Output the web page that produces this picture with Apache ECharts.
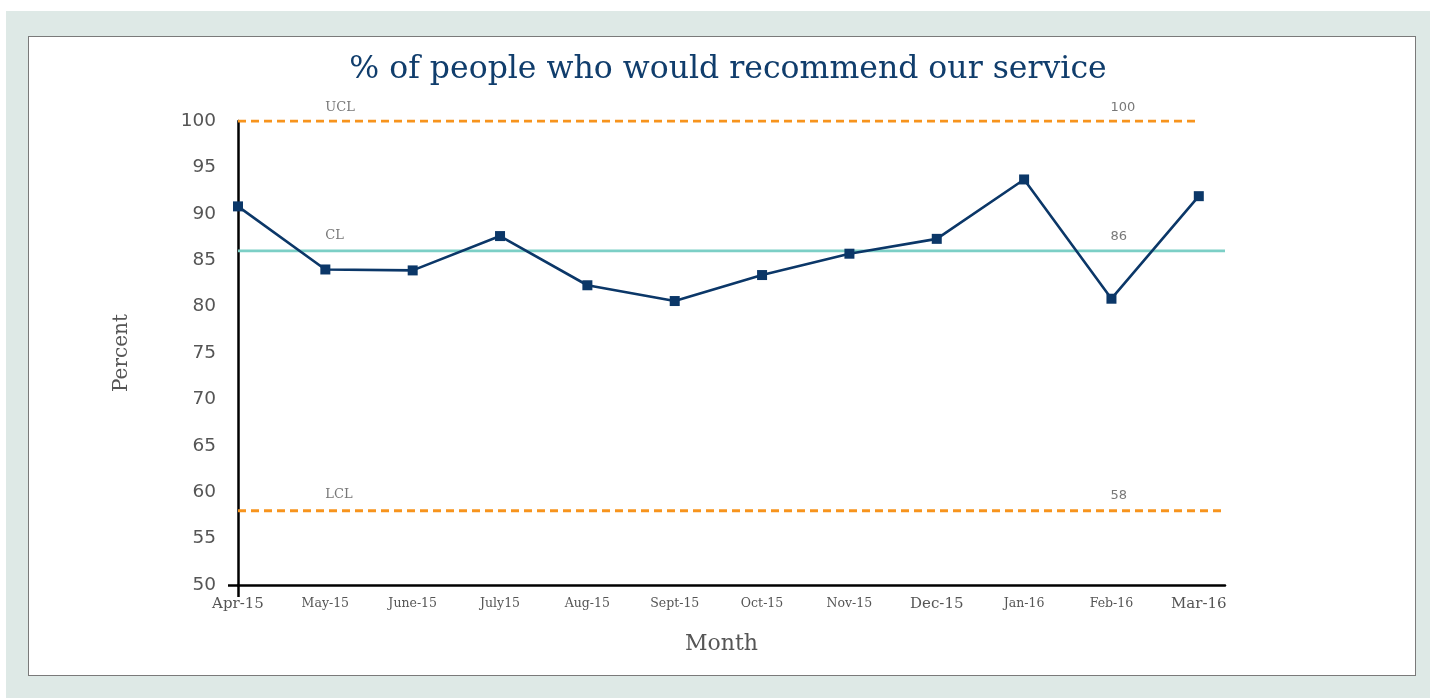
<!DOCTYPE html>
<html>
<head>
<meta charset="utf-8">
<script src="https://cdn.jsdelivr.net/npm/echarts@6/dist/echarts.min.js"></script>
<style>
  html, body { margin: 0; padding: 0; background: #ffffff; }
  #bg { position: absolute; left: 6px; top: 11px; width: 1424px; height: 687px; background: #dee9e6; }
  #panel { position: absolute; left: 28px; top: 36px; width: 1386px; height: 638px; background: #ffffff; border: 1px solid #7a7a7a; }
  #chart { position: absolute; left: 0; top: 0; width: 1430px; height: 698px; }
</style>
</head>
<body>
<div id="bg"></div>
<div id="panel"></div>
<div id="chart"></div>
<script>
const months = ['Apr-15','May-15','June-15','July15','Aug-15','Sept-15','Oct-15','Nov-15','Dec-15','Jan-16','Feb-16','Mar-16'];
const bigLabels = ['Apr-15','Dec-15','Mar-16'];
const percent = [90.8, 84.0, 83.9, 87.6, 82.3, 80.6, 83.4, 85.7, 87.3, 93.7, 80.85, 91.9];
const UCL = 100;
const CL = 86;
const LCL = 58;
const yTicks = [50, 55, 60, 65, 70, 75, 80, 85, 90, 95, 100];

const serif = '"DejaVu Serif", "Liberation Serif", serif';
const sans = '"DejaVu Sans", "Noto Sans", sans-serif';
const lastIdx = months.length - 1;
const xEnd = lastIdx + 0.3;

const chart = echarts.init(document.getElementById('chart'), null, { renderer: 'canvas' });
chart.setOption({
  backgroundColor: 'transparent',
  animation: false,
  title: {
    text: '% of people who would recommend our service',
    left: 723, top: 49, textAlign: 'center',
    textStyle: { fontFamily: serif, fontWeight: 'normal', fontSize: 31.5, color: '#103d6c' }
  },
  grid: { left: 238, top: 121, right: 205, bottom: 113 },
  xAxis: {
    type: 'value', min: 0, max: xEnd,
    name: 'Month', nameLocation: 'middle', nameGap: 48,
    nameTextStyle: { fontFamily: serif, fontSize: 22, color: '#555', padding: [0, 20, 0, 0] },
    splitLine: { show: false },
    axisLine: { show: true, lineStyle: { color: '#000', width: 2.5 } },
    axisTick: { show: true, customValues: [0], length: 12, lineStyle: { color: '#000', width: 2.5 } },
    axisLabel: {
      customValues: months.map((m, i) => i),
      margin: 12,
      formatter: v => {
        const m = months[Math.round(v)];
        return bigLabels.includes(m) ? '{big|' + m + '}' : '{small|' + m + '}';
      },
      rich: {
        big: { fontFamily: serif, fontSize: 15, color: '#555' },
        small: { fontFamily: serif, fontSize: 12.5, color: '#555' }
      }
    }
  },
  yAxis: {
    type: 'value', min: 50, max: 100, interval: 5,
    name: 'Percent', nameLocation: 'middle', nameGap: 106, nameRotate: 90,
    nameTextStyle: { fontFamily: serif, fontSize: 20, color: '#555' },
    splitLine: { show: false },
    axisLine: { show: true, lineStyle: { color: '#000', width: 2.5 } },
    axisTick: { show: true, customValues: [50], length: 10, lineStyle: { color: '#000', width: 2.5 } },
    axisLabel: {
      customValues: yTicks, margin: 22,
      fontFamily: sans, fontSize: 18.5, color: '#555'
    }
  },
  series: [
    {
      type: 'line', name: 'UCL', silent: true, symbol: 'none',
      data: [[0, UCL], [lastIdx, UCL]],
      lineStyle: { color: '#f7941d', width: 2.8, type: [8, 5] }, z: 1
    },
    {
      type: 'line', name: 'CL', silent: true, symbol: 'none',
      data: [[0, CL], [xEnd, CL]],
      lineStyle: { color: '#7ccfc6', width: 2.8 }, z: 1
    },
    {
      type: 'line', name: 'LCL', silent: true, symbol: 'none',
      data: [[0, LCL], [xEnd, LCL]],
      lineStyle: { color: '#f7941d', width: 2.8, type: [8, 5] }, z: 1
    },
    {
      type: 'scatter', silent: true, symbolSize: 0,
      data: [
        { value: [1, UCL], label: { formatter: 'UCL', fontFamily: serif, offset: [-5, -2] } },
        { value: [1, CL], label: { formatter: 'CL', fontFamily: serif, offset: [-5, -4] } },
        { value: [1, LCL], label: { formatter: 'LCL', fontFamily: serif, offset: [-5, -5] } },
        { value: [lastIdx - 1, UCL], label: { formatter: String(UCL), fontFamily: sans, offset: [-6, -2] } },
        { value: [lastIdx - 1, CL], label: { formatter: String(CL), fontFamily: sans, offset: [-6, -3] } },
        { value: [lastIdx - 1, LCL], label: { formatter: String(LCL), fontFamily: sans, offset: [-6, -4] } }
      ],
      label: { show: true, position: 'insideBottomLeft', fontSize: 13, color: '#555', align: 'left', verticalAlign: 'bottom' },
      z: 2
    },
    {
      type: 'line', name: 'Percent',
      data: percent.map((v, i) => [i, v]),
      symbol: 'rect', symbolSize: 10,
      lineStyle: { color: '#0b3768', width: 2.6 },
      itemStyle: { color: '#0b3768' },
      z: 5
    }
  ]
});
</script>
</body>
</html>
